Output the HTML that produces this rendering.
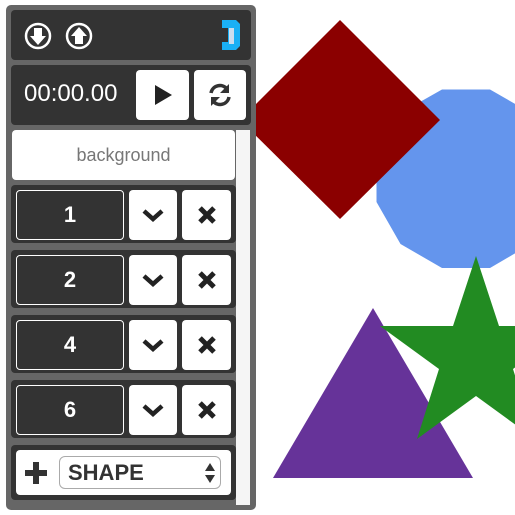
<!DOCTYPE html>
<html><head><style>
body{margin:0;width:515px;height:515px;background:#fff;position:relative;overflow:hidden;font-family:"Liberation Sans",sans-serif}
.a{position:absolute}
.panel{left:6px;top:5px;width:250px;height:505px;background:#666;border-radius:5px}
.dk{background:#333;border-radius:4px}
.wb{background:#fff;border-radius:4px;display:flex;align-items:center;justify-content:center}
.item{border:1.5px solid #fff;box-sizing:border-box;background:#333;border-radius:4px;color:#fff;font-weight:bold;font-size:22px;display:flex;align-items:center;justify-content:center}
</style></head><body>
<svg class="a" style="left:0;top:0" width="515" height="515">
<polygon fill="#6495ed" points="3"/>
<polygon fill="#6495ed" points="490,89.5 531,113 555,154 555,202 531,244 490,268 442,268 400.5,244 376.5,202 376.5,154 400.5,113 442,89.5"/>
<polygon fill="#8b0000" points="340,20 440,120 340,219 240,120"/>
<polygon fill="#663399" points="373,308 473,478 273,478"/>
<polygon fill="#228b22" points="476,256 499,326 572,326 513,369 535,439 476,396 417,439 439,369 380,326 453,326"/>
</svg>
<div class="a panel"></div>
<div class="a dk" style="left:11px;top:10px;width:240px;height:50px"></div>
<svg class="a" style="left:24px;top:22px" width="80" height="30">
<circle cx="14" cy="14" r="12" fill="none" stroke="#fff" stroke-width="2.5"/>
<path d="M10 6h8v8h4l-8 9-8-9h4z" fill="#fff"/>
<circle cx="55" cy="14" r="12" fill="none" stroke="#fff" stroke-width="2.5"/>
<path d="M51 22h8v-8h4l-8-9-8 9h4z" fill="#fff"/>
</svg>
<svg class="a" style="left:220px;top:18px" width="22" height="34">
<path d="M2 2h14l4 4v22l-4 4H2v-8h6V10H2z" fill="#1ab0f5"/>
<path d="M9 10h5v16H9z" fill="#cde"/>
</svg>
<div class="a dk" style="left:11px;top:65px;width:240px;height:60px"></div>
<div class="a" style="left:24px;top:80px;color:#fff;font-size:24px">00:00.00</div>
<div class="a wb" style="left:136px;top:70px;width:53px;height:50px"><svg width="20" height="22"><path d="M2 1l17 10-17 10z" fill="#222"/></svg></div>
<div class="a wb" style="left:194px;top:70px;width:52px;height:50px"><svg width="26" height="26" viewBox="0 0 26 26"><path d="M4 11a9 9 0 0 1 16-4" fill="none" stroke="#333" stroke-width="3.5"/><path d="M22 2v9h-9z" fill="#333"/><path d="M22 15a9 9 0 0 1-16 4" fill="none" stroke="#333" stroke-width="3.5"/><path d="M4 24v-9h9z" fill="#333"/></svg></div>
<div class="a" style="left:236px;top:130px;width:14px;height:375px;background:#f5f5f5"></div>
<div class="a wb" style="left:12px;top:130px;width:223px;height:50px;color:#777;font-size:18px">background</div>
<div class="a dk" style="left:11px;top:185px;width:225px;height:58px"></div>
<div class="a dk" style="left:11px;top:250px;width:225px;height:58px"></div>
<div class="a dk" style="left:11px;top:315px;width:225px;height:58px"></div>
<div class="a dk" style="left:11px;top:380px;width:225px;height:58px"></div>
<div class="a item" style="left:16px;top:190px;width:108px;height:50px">1</div>
<div class="a item" style="left:16px;top:255px;width:108px;height:50px">2</div>
<div class="a item" style="left:16px;top:320px;width:108px;height:50px">4</div>
<div class="a item" style="left:16px;top:385px;width:108px;height:50px">6</div>
<div class="a wb" style="left:129px;top:190px;width:48px;height:50px"><svg width="22" height="14"><path d="M2 3l9 8 9-8" fill="none" stroke="#222" stroke-width="4.5"/></svg></div>
<div class="a wb" style="left:129px;top:255px;width:48px;height:50px"><svg width="22" height="14"><path d="M2 3l9 8 9-8" fill="none" stroke="#222" stroke-width="4.5"/></svg></div>
<div class="a wb" style="left:129px;top:320px;width:48px;height:50px"><svg width="22" height="14"><path d="M2 3l9 8 9-8" fill="none" stroke="#222" stroke-width="4.5"/></svg></div>
<div class="a wb" style="left:129px;top:385px;width:48px;height:50px"><svg width="22" height="14"><path d="M2 3l9 8 9-8" fill="none" stroke="#222" stroke-width="4.5"/></svg></div>
<div class="a wb" style="left:182px;top:190px;width:49px;height:50px"><svg width="20" height="20"><path d="M3 3l14 14M17 3L3 17" stroke="#222" stroke-width="5"/></svg></div>
<div class="a wb" style="left:182px;top:255px;width:49px;height:50px"><svg width="20" height="20"><path d="M3 3l14 14M17 3L3 17" stroke="#222" stroke-width="5"/></svg></div>
<div class="a wb" style="left:182px;top:320px;width:49px;height:50px"><svg width="20" height="20"><path d="M3 3l14 14M17 3L3 17" stroke="#222" stroke-width="5"/></svg></div>
<div class="a wb" style="left:182px;top:385px;width:49px;height:50px"><svg width="20" height="20"><path d="M3 3l14 14M17 3L3 17" stroke="#222" stroke-width="5"/></svg></div>
<div class="a dk" style="left:11px;top:445px;width:225px;height:55px"></div>
<div class="a" style="left:16px;top:450px;width:215px;height:45px;background:#fff;border-radius:4px"></div>
<svg class="a" style="left:24px;top:461px" width="24" height="24"><path d="M12 1v22M1 12h22" stroke="#333" stroke-width="6"/></svg>
<div class="a" style="left:59px;top:456px;width:162px;height:33px;border:1px solid #aaa;border-radius:6px;box-sizing:border-box"></div>
<div class="a" style="left:68px;top:460px;font-size:22px;font-weight:bold;color:#333">SHAPE</div>
<svg class="a" style="left:204px;top:462px" width="12" height="22"><path d="M1 9l5-8 5 8zM1 13l5 8 5-8z" fill="#333"/></svg>
</body></html>
